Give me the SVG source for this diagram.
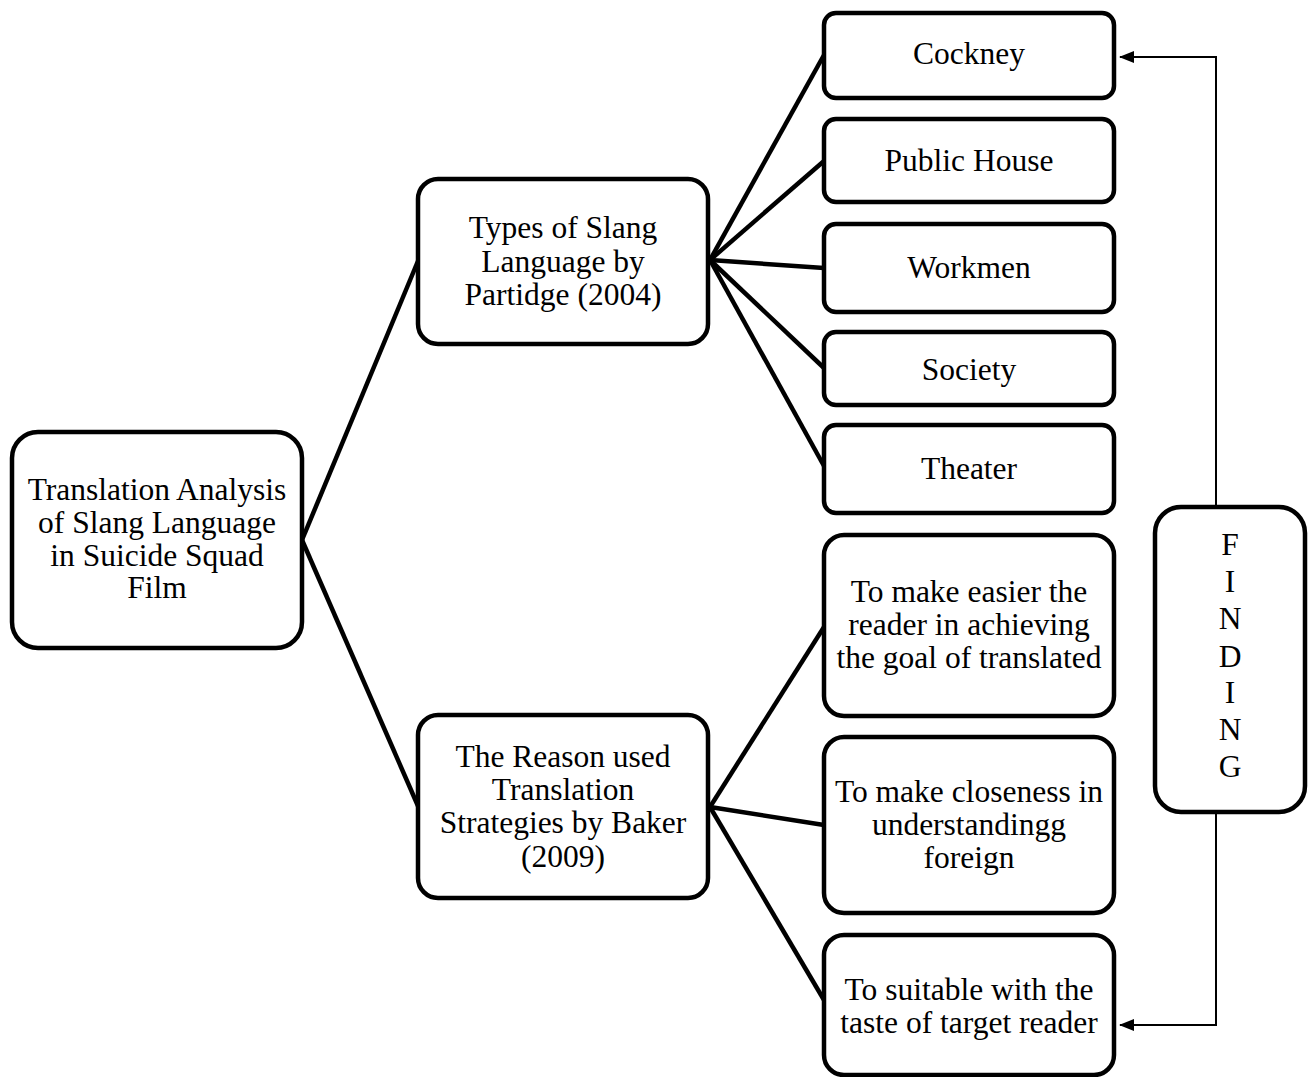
<svg xmlns="http://www.w3.org/2000/svg" width="1312" height="1077" viewBox="0 0 1312 1077">
<style>
.box{fill:#fff;stroke:#000;stroke-width:4.5}
.t{font-family:"Liberation Serif","Times New Roman",serif;font-size:31.5px;fill:#000;text-anchor:middle}
.c{stroke:#000;stroke-width:4.5;fill:none}
.a{stroke:#000;stroke-width:2;fill:none}
</style>
<defs>
<marker id="arr" markerWidth="15" markerHeight="12" refX="14" refY="6" orient="auto" markerUnits="userSpaceOnUse" viewBox="0 0 15 12">
<path d="M0,0 L15,6 L0,12 z" fill="#000"/>
</marker>
</defs>
<g id="connectors">
<line class="c" x1="302" y1="540" x2="418" y2="261"/>
<line class="c" x1="302" y1="540" x2="418" y2="806"/>
<line class="c" x1="710" y1="260" x2="824" y2="55"/>
<line class="c" x1="710" y1="260" x2="824" y2="161"/>
<line class="c" x1="710" y1="260" x2="824" y2="268"/>
<line class="c" x1="710" y1="260" x2="824" y2="368"/>
<line class="c" x1="710" y1="260" x2="824" y2="466"/>
<line class="c" x1="710" y1="807" x2="824" y2="627"/>
<line class="c" x1="710" y1="807" x2="824" y2="825"/>
<line class="c" x1="710" y1="807" x2="824" y2="1000"/>
<polyline class="a" points="1216,507 1216,57 1120,57" marker-end="url(#arr)"/>
<polyline class="a" points="1216,812 1216,1025 1120,1025" marker-end="url(#arr)"/>
</g>
<g id="root">
<rect class="box" x="12" y="432" width="290" height="216" rx="26"/>
<text class="t"><tspan x="157" y="500">Translation Analysis</tspan><tspan x="157" y="533">of Slang Language</tspan><tspan x="157" y="566">in Suicide Squad</tspan><tspan x="157" y="598">Film</tspan></text>
</g>
<g id="types">
<rect class="box" x="418" y="179" width="290" height="165" rx="20"/>
<text class="t"><tspan x="563" y="238">Types of Slang</tspan><tspan x="563" y="272">Language by</tspan><tspan x="563" y="305">Partidge (2004)</tspan></text>
</g>
<g id="reason">
<rect class="box" x="418" y="715" width="290" height="183" rx="20"/>
<text class="t"><tspan x="563" y="767">The Reason used</tspan><tspan x="563" y="800">Translation</tspan><tspan x="563" y="833">Strategies by Baker</tspan><tspan x="563" y="867">(2009)</tspan></text>
</g>
<g id="cockney">
<rect class="box" x="824" y="13" width="290" height="85" rx="12"/>
<text class="t" x="969" y="64">Cockney</text>
</g>
<g id="publichouse">
<rect class="box" x="824" y="119" width="290" height="83" rx="12"/>
<text class="t" x="969" y="171">Public House</text>
</g>
<g id="workmen">
<rect class="box" x="824" y="224" width="290" height="88" rx="12"/>
<text class="t" x="969" y="278">Workmen</text>
</g>
<g id="society">
<rect class="box" x="824" y="332" width="290" height="73" rx="12"/>
<text class="t" x="969" y="380">Society</text>
</g>
<g id="theater">
<rect class="box" x="824" y="425" width="290" height="88" rx="12"/>
<text class="t" x="969" y="479">Theater</text>
</g>
<g id="reason1">
<rect class="box" x="824" y="535" width="290" height="181" rx="20"/>
<text class="t"><tspan x="969" y="602">To make easier the</tspan><tspan x="969" y="635">reader in achieving</tspan><tspan x="969" y="668">the goal of translated</tspan></text>
</g>
<g id="reason2">
<rect class="box" x="824" y="737" width="290" height="176" rx="20"/>
<text class="t"><tspan x="969" y="802">To make closeness in</tspan><tspan x="969" y="835">understandingg</tspan><tspan x="969" y="868">foreign</tspan></text>
</g>
<g id="reason3">
<rect class="box" x="824" y="935" width="290" height="140" rx="20"/>
<text class="t"><tspan x="969" y="1000">To suitable with the</tspan><tspan x="969" y="1033">taste of target reader</tspan></text>
</g>
<g id="finding">
<rect class="box" x="1155" y="507" width="150" height="305" rx="26"/>
<text class="t"><tspan x="1230" y="555">F</tspan><tspan x="1230" y="592">I</tspan><tspan x="1230" y="629">N</tspan><tspan x="1230" y="667">D</tspan><tspan x="1230" y="703">I</tspan><tspan x="1230" y="740">N</tspan><tspan x="1230" y="777">G</tspan></text>
</g>
</svg>
